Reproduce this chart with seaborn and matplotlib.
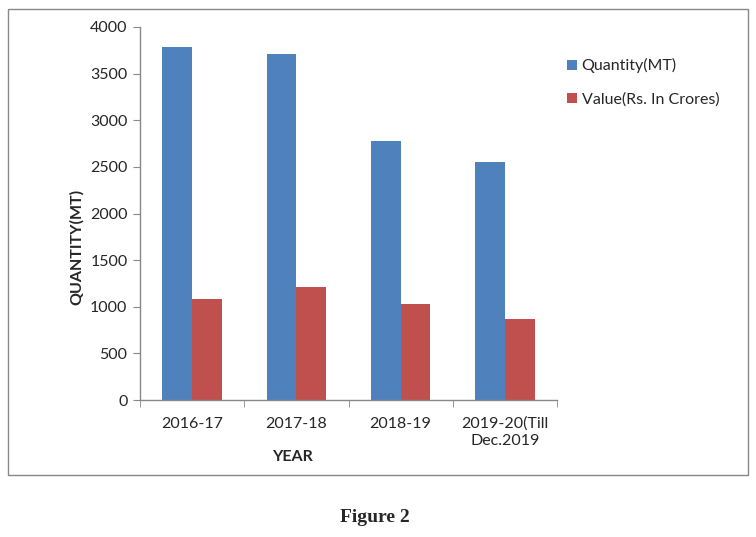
import matplotlib
matplotlib.use("Agg")
from matplotlib import pyplot as plt
from matplotlib.patches import Rectangle
from matplotlib.ticker import FixedLocator
import seaborn as sns
import pandas as pd

# data
years = ['2016-17', '2017-18', '2018-19', '2019-20(Till\nDec.2019']
quantity = [3786, 3710, 2777, 2550]
value = [1085, 1212, 1032, 870]
series = ['Quantity(MT)', 'Value(Rs. In Crores)']
colors = ['#4F81BD', '#C0504D']

data = pd.DataFrame({
    'year': years * 2,
    'amount': quantity + value,
    'series': [series[0]] * len(years) + [series[1]] * len(years),
})

sns.set_style('white')
plt.rcParams['font.family'] = ['Lato', 'DejaVu Sans']

fig = plt.figure(figsize=(7.56, 5.37), dpi=100)
ax = fig.add_axes([140 / 756, 137 / 537, 417 / 756, 373 / 537])

sns.barplot(x='year', y='amount', hue='series', data=data, palette=colors,
            width=0.57, saturation=1, errorbar=None, ax=ax, legend=True,
            linewidth=0)

ax.set_ylim(0, 4000)
ax.set_yticks(range(0, 4001, 500))
ax.set_xlim(-0.5, 3.5)
ax.tick_params(axis='y', which='major', length=5, color='#888888', labelsize=11.5,
               direction='out', left=True, pad=4)
ax.tick_params(axis='x', which='major', length=0, labelsize=11.5, pad=12)
ax.xaxis.set_minor_locator(FixedLocator([-0.5, 0.5, 1.5, 2.5, 3.5]))
ax.tick_params(axis='x', which='minor', length=5, color='#888888', bottom=True,
               direction='out')
for lbl in ax.get_xticklabels():
    lbl.set_linespacing(1.3)

for side in ['top', 'right']:
    ax.spines[side].set_visible(False)
for side in ['left', 'bottom']:
    ax.spines[side].set_color('#888888')
    ax.spines[side].set_linewidth(1)

ax.set_xlabel('YEAR', fontsize=11.5, fontweight='bold')
ax.xaxis.set_label_coords(0.365, -0.135)
ax.set_ylabel('QUANTITY(MT)', fontsize=11.5, fontweight='bold')
ax.yaxis.set_label_coords(-0.135, 0.41)

handles, labels = ax.get_legend_handles_labels()
ax.legend(handles, labels, loc='upper left', bbox_to_anchor=(553 / 756, 493 / 537),
          bbox_transform=fig.transFigure, frameon=False, fontsize=11.5,
          handlelength=0.6, handleheight=0.6, handletextpad=0.3, labelspacing=1.2)

fig.patches.append(Rectangle((8 / 756, 62 / 537), 740 / 756, 466 / 537,
                             transform=fig.transFigure, fill=False,
                             edgecolor='#888888', linewidth=1))

fig.text(375 / 756, 20 / 537, 'Figure 2', ha='center', va='center',
         fontsize=14, fontweight='bold', family='Liberation Serif')

fig.savefig('out.png', dpi=100)
